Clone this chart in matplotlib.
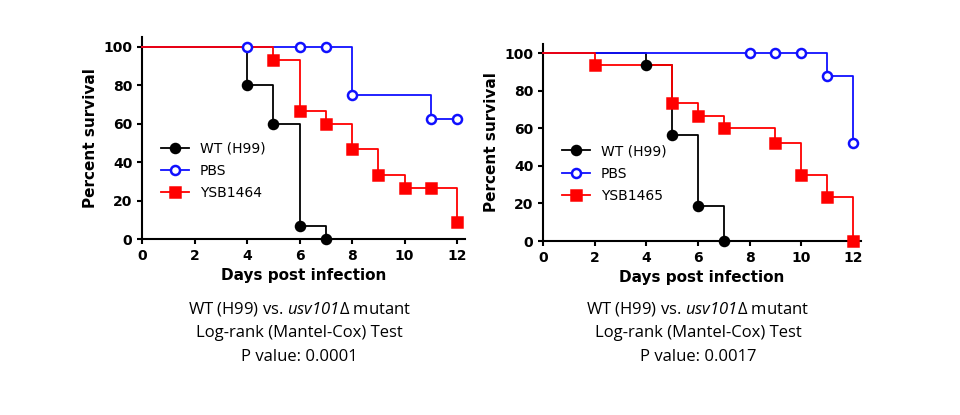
import matplotlib
matplotlib.use("Agg")
import matplotlib.pyplot as plt

plt.rcParams['mathtext.fontset'] = 'custom'
plt.rcParams['mathtext.it'] = 'Open Sans:italic'
plt.rcParams['mathtext.rm'] = 'Open Sans:italic'

# Left panel
L_wt_x = [0, 4, 5, 6, 7]; L_wt_y = [100, 80, 60, 6.67, 0]
L_pbs_x = [0, 4, 6, 7, 8, 11, 12]; L_pbs_y = [100, 100, 100, 100, 75, 62.5, 62.5]
L_ysb_x = [0, 5, 6, 7, 8, 9, 10, 11, 12]; L_ysb_y = [100, 93.3, 66.7, 60, 46.7, 33.3, 26.7, 26.7, 8.9]
# Right panel
R_wt_x = [0, 4, 5, 6, 7]; R_wt_y = [100, 93.75, 56.25, 18.75, 0]
R_pbs_x = [0, 8, 9, 10, 11, 12]; R_pbs_y = [100, 100, 100, 100, 87.5, 52]
R_ysb_x = [0, 2, 5, 6, 7, 9, 10, 11, 12]; R_ysb_y = [100, 93.75, 73.3, 66.7, 60, 52, 35, 23.3, 0]
xticks = list(range(0, 13, 2))
yticks = list(range(0, 101, 20))

fig = plt.figure(figsize=(9.6, 4.15), dpi=100)
W, H = 960, 415

def panel(left, bottom, pxx, pxy, series, caption):
    ax = fig.add_axes([left / W, (H - bottom) / H, 12.3 * pxx / W, 105 * pxy / H])
    for (x, y, c, m, fc, lab) in series:
        ax.step(x, y, where='post', color=c, lw=1.3, clip_on=False, zorder=3)
        ax.plot(x[1:], y[1:], ls='none', marker=m, color=c, mfc=fc, mew=1.8, ms=6.5,
                clip_on=False, zorder=4)
        ax.plot([], [], color=c, marker=m, mfc=fc, mew=1.8, ms=6.5, lw=1.3, label=lab)
    ax.set_xlim(0, 12.3); ax.set_ylim(0, 105)
    ax.set_xticks(xticks); ax.set_yticks(yticks)
    for s in ['top', 'right']:
        ax.spines[s].set_visible(False)
    for s in ['left', 'bottom']:
        ax.spines[s].set_linewidth(1.5)
    ax.tick_params(width=1.5, labelsize=10)
    for t in ax.get_xticklabels() + ax.get_yticklabels():
        t.set_fontweight('bold')
    ax.set_xlabel('Days post infection', fontsize=11, fontweight='bold')
    ax.set_ylabel('Percent survival', fontsize=11, fontweight='bold')
    ax.legend(loc='lower left', bbox_to_anchor=(0.02, 0.13), frameon=False, fontsize=10,
              handlelength=2, labelspacing=0.6)
    cx = (left + 6 * pxx) / W
    lines = ['WT (H99) vs. $\\mathrm{usv101}$Δ mutant', 'Log-rank (Mantel-Cox) Test', caption]
    for i, t in enumerate(lines):
        fig.text(cx, 1 - (309 + 24 * i) / H, t, ha='center', va='center', fontsize=12,
                 family='Open Sans')

panel(142, 239, 26.25, 1.92, [
    (L_wt_x, L_wt_y, 'black', 'o', 'black', 'WT (H99)'),
    (L_pbs_x, L_pbs_y, '#1010ff', 'o', 'white', 'PBS'),
    (L_ysb_x, L_ysb_y, '#ff0000', 's', '#ff0000', 'YSB1464')], 'P value: 0.0001')
panel(543, 241, 25.83, 1.88, [
    (R_wt_x, R_wt_y, 'black', 'o', 'black', 'WT (H99)'),
    (R_pbs_x, R_pbs_y, '#1010ff', 'o', 'white', 'PBS'),
    (R_ysb_x, R_ysb_y, '#ff0000', 's', '#ff0000', 'YSB1465')], 'P value: 0.0017')

fig.savefig('out.png', dpi=100)
